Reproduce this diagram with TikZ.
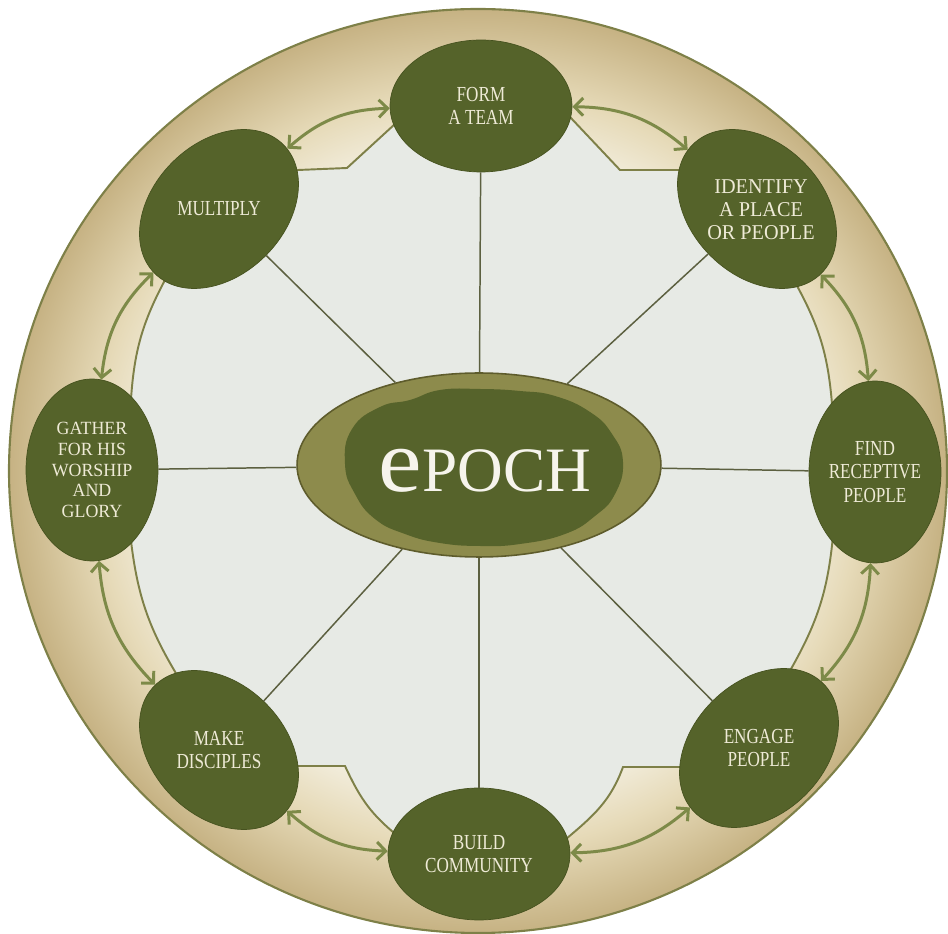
\documentclass[tikz,border=0pt]{standalone}
\usepackage{graphicx}
\usepackage{fontspec}
\setmainfont{Liberation Serif}
\newfontfamily\stepfont[FakeStretch=0.8]{Liberation Serif}
\newfontfamily\stepwidefont[FakeStretch=0.96]{Liberation Serif}
\usetikzlibrary{shapes.geometric,arrows.meta,backgrounds}

\definecolor{bandlight}{HTML}{F4F0E2}
\definecolor{bandmid}{HTML}{E6DAB8}
\definecolor{banddark}{HTML}{C6B283}
\definecolor{innerfill}{HTML}{E7EAE5}
\definecolor{ringline}{HTML}{7E8048}
\definecolor{stepgreen}{HTML}{55632A}
\definecolor{stepedge}{HTML}{46521F}
\definecolor{steptext}{HTML}{EEEAD6}
\definecolor{arrowcol}{HTML}{7D8A48}
\definecolor{spokecol}{HTML}{5C6040}
\definecolor{epochring}{HTML}{8D8B4C}
\definecolor{epochedge}{HTML}{5E5C2C}
\definecolor{epochdark}{HTML}{56632B}
\definecolor{epochtext}{HTML}{F6F4EC}

\pgfdeclareradialshading{bandshade}{\pgfpoint{0bp}{0bp}}{%
    color(0bp)=(bandlight); color(17bp)=(bandlight); color(20.5bp)=(bandmid);
    color(25bp)=(banddark); color(50bp)=(banddark)}

\begin{document}
\begin{tikzpicture}[
    x=0.02cm, y=0.02cm,
    stepnode/.style={
        ellipse,
        fill=stepgreen,
        draw=stepedge,
        line width=0.4pt,
        minimum width=3.64cm,
        minimum height=2.64cm,
        inner sep=0pt
    },
    steplabel/.style={
        text=steptext,
        align=center,
        inner sep=0pt,
        font=\stepfont\fontsize{12.2pt}{13.2pt}\selectfont
    },
    steplabelwide/.style={
        steplabel,
        font=\stepwidefont\fontsize{12pt}{13.2pt}\selectfont
    },
    epochnode/.style={
        ellipse,
        fill=epochring,
        draw=epochedge,
        line width=0.9pt,
        minimum width=7.28cm,
        minimum height=3.68cm
    },
    epochlabel/.style={
        text=epochtext,
        inner sep=0pt,
        font=\fontsize{36pt}{36pt}\selectfont
    },
    spoke/.style={
        draw=spokecol,
        line width=0.85pt
    },
    ringarrow/.style={
        <->,
        >={Straight Barb[length=5pt,width=10pt]},
        draw=arrowcol,
        line width=1.7pt
    },
    innerregion/.style={
        fill=innerfill,
        draw=ringline,
        line width=1.1pt
    }
]
    \useasboundingbox (0,0) rectangle (948,934);

    \node[stepnode] (form) at (481,828) {};
    \node[stepnode, rotate=-45] (identify) at (757,725) {};
    \node[stepnode, rotate=90] (find) at (875,462) {};
    \node[stepnode, rotate=45] (engage) at (759,186) {};
    \node[stepnode] (build) at (479,80) {};
    \node[stepnode, rotate=-45] (make) at (219,184) {};
    \node[stepnode, rotate=90] (gather) at (92,464) {};
    \node[stepnode, rotate=45] (multiply) at (219,725) {};

    \node[steplabel] (formtext) at (form) {FORM\\A TEAM};
    \node[steplabelwide] (identifytext) at (761,724) {IDENTIFY\\A PLACE\\OR PEOPLE};
    \node[steplabel] (findtext) at (find) {FIND\\RECEPTIVE\\PEOPLE};
    \node[steplabel] (engagetext) at (engage) {ENGAGE\\PEOPLE};
    \node[steplabel] (buildtext) at (build) {BUILD\\COMMUNITY};
    \node[steplabel] (maketext) at (make) {MAKE\\DISCIPLES};
    \node[steplabelwide, font=\stepwidefont\fontsize{10.6pt}{11.8pt}\selectfont]
        (gathertext) at (gather) {GATHER\\FOR HIS\\WORSHIP\\AND\\GLORY};
    \node[steplabel] (multiplytext) at (multiply) {MULTIPLY};

    \node[epochnode] (epoch) at (479,469) {};
    \fill[epochdark] plot[smooth cycle, tension=0.8] coordinates {
        (345,470) (352,505) (380,527) (410,534) (440,544) (480,545)
        (520,543) (555,538) (590,522) (612,500) (623,472) (615,440)
        (595,418) (565,400) (520,390) (480,388) (440,391) (405,400)
        (375,415) (355,440)};
    \node[epochlabel] (epochtext) at (485,463) {\scalebox{1.55}[1.42]{e}POCH};

    \draw[spoke] (epoch) -- (form);
    \draw[spoke] (epoch) -- (identify);
    \draw[spoke] (epoch) -- (find);
    \draw[spoke] (epoch) -- (engage);
    \draw[spoke] (epoch) -- (build);
    \draw[spoke] (epoch) -- (make);
    \draw[spoke] (epoch) -- (gather);
    \draw[spoke] (epoch) -- (multiply);

    \draw[ringarrow] (form) to[bend right=20] (multiply);
    \draw[ringarrow] (multiply) to[bend right=20] (gather);
    \draw[ringarrow] (gather) to[bend right=20] (make);
    \draw[ringarrow] (make) to[bend right=20] (build);
    \draw[ringarrow] (build) to[bend right=20] (engage);
    \draw[ringarrow] (engage) to[bend right=20] (find);
    \draw[ringarrow] (find) to[bend right=20] (identify);
    \draw[ringarrow] (identify) to[bend right=20] (form);

    \begin{scope}[on background layer]
        \shadedraw[shading=bandshade, draw=ringline, line width=1.2pt]
            (478,463) ellipse [x radius=469, y radius=462];
        \path[innerregion] (form.center) -- (395,810) -- (347,766) -- (298,764)
            -- (multiply.center) -- (165,654) to[bend right=12] (131,535)
            -- (gather.center) -- (131,393) to[bend right=12] (177,259)
            -- (make.center) -- (298,168) -- (345,168) to[out=-65,in=140] (393,102)
            -- (build.center) -- (566,95) to[out=40,in=-110] (623,167) -- (680,167)
            -- (engage.center) -- (791,265) to[bend right=12] (833,398)
            -- (find.center) -- (832,530) to[bend right=12] (796,650)
            -- (identify.center) -- (680,764) -- (620,764) -- (570,817) -- cycle;
    \end{scope}
\end{tikzpicture}
\end{document}
